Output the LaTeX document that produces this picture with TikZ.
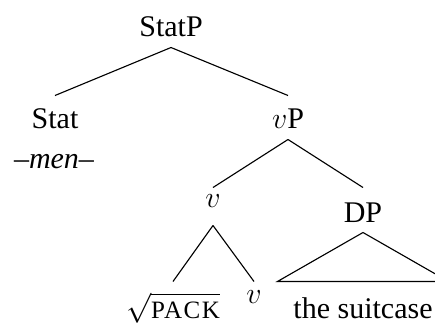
\documentclass[tikz,border=0pt]{standalone}
\usepackage{fontspec}
\setmainfont{Liberation Serif}
\usepackage{tikz}

\tikzset{
  cat/.style={anchor=base,inner sep=0pt,text height=12.8pt,text depth=4.4pt},
  branch/.style={line width=0.45pt}
}

\begin{document}
\begin{tikzpicture}[x=0.4pt,y=-0.4pt,font=\fontsize{12}{14}\selectfont]
  \useasboundingbox (0,0) rectangle (435,322);

  \node[cat] (statp) at (171,36) {StatP};
  \node[cat] (stat) at (55,128) {Stat};
  \node[cat] (men) at (54,168) {--\textit{men}--};
  \node[cat] (vp) at (288,128) {$v$P};

  \node[cat,text height=7.6pt,text depth=7.2pt] (v) at (213,207) {$v$};
  \node[cat,text height=13.6pt,text depth=4pt] (dp) at (363,222) {DP};

  \node[cat,text height=14.4pt] (root) at (173,318)
    {$\sqrt{\mbox{\fontsize{10}{12}\selectfont\addfontfeature{LetterSpace=6}PACK}}$};
  \node[cat,text height=8.4pt] (vhead) at (254,303) {$v$};
  \node[cat,text height=14.4pt,inner xsep=6.2pt] (suitcase) at (363,318) {the suitcase};

  \draw[branch] (statp.south) -- (stat.north);
  \draw[branch] (statp.south) -- (vp.north);
  \draw[branch] (vp.south) -- (v.north);
  \draw[branch] (vp.south) -- (dp.north);
  \draw[branch] (v.south) -- (root.north);
  \draw[branch] (v.south) -- (vhead.north);
  \draw[branch] (dp.south) -- (suitcase.north west) -- (suitcase.north east) -- cycle;
\end{tikzpicture}
\end{document}
